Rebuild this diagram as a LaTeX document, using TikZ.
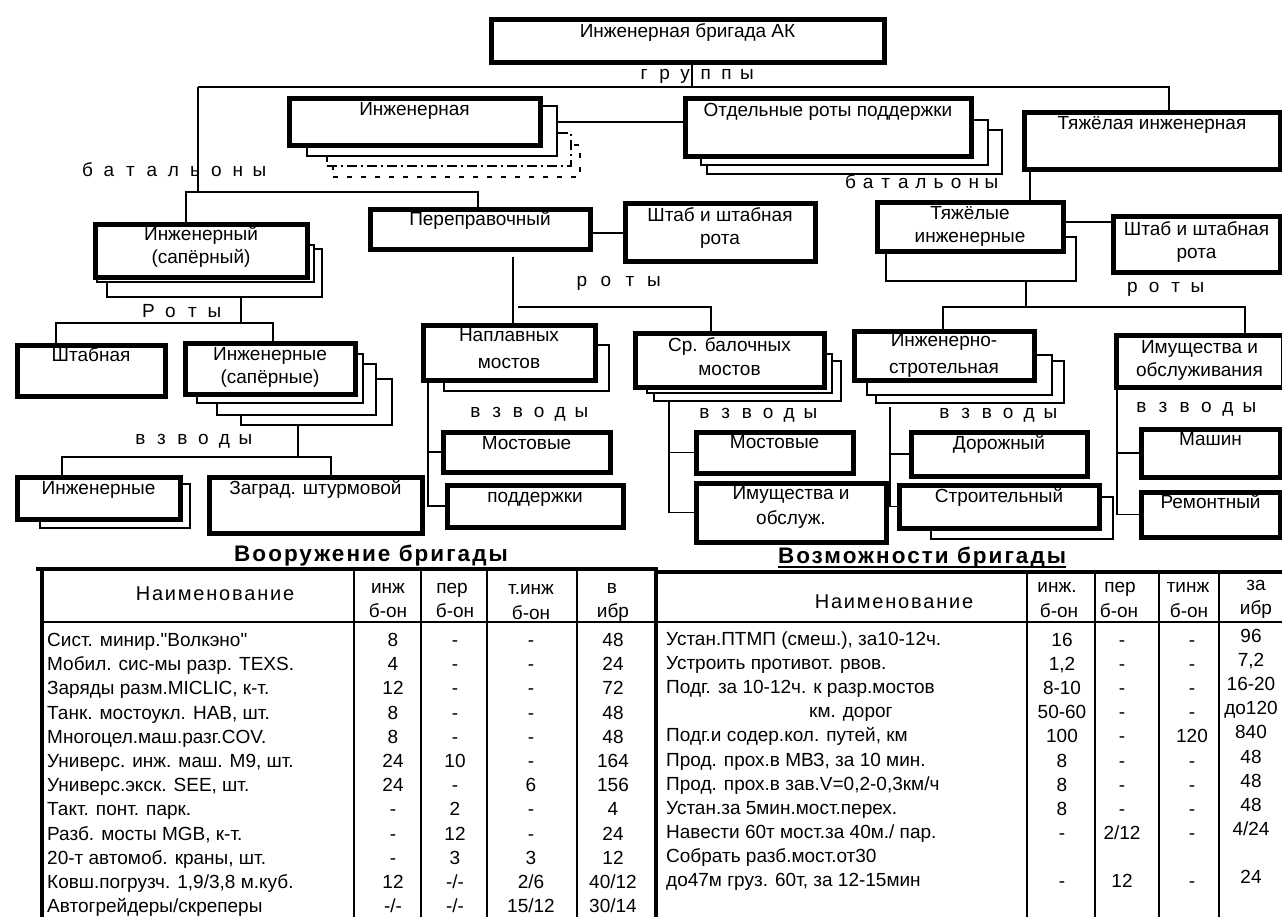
\documentclass[tikz,border=0pt]{standalone}
\usepackage{fontspec}
\setmainfont{Liberation Sans}
\newfontfamily\titlefont[LetterSpace=9]{Liberation Sans}
\newfontfamily\headfont[LetterSpace=9]{Liberation Sans}
\usetikzlibrary{calc}

% letter-spaced captions: every letter in a cell of fixed width
\makeatletter
\newlength\lstep
\newcommand\spreadtxt[2]{\setlength\lstep{#1}\@tfor\sp@c:=#2\do{\makebox[\lstep]{\sp@c}}}
\makeatother

\pgfdeclarelayer{bg}
\pgfsetlayers{bg,main}

\tikzset{
  mainb/.style={draw, line width=5pt, fill=white, inner sep=0pt},
  shadowb/.style={draw, line width=1.8pt, fill=white, inner sep=0pt},
  dashdotb/.style={draw, line width=1.8pt, fill=white, inner sep=0pt,
    dash pattern=on 10pt off 4pt on 2pt off 4pt},
  dotb/.style={draw, line width=2pt, fill=white, inner sep=0pt,
    dash pattern=on 5pt off 9pt},
  lbl/.style={anchor=base, inner sep=0pt, font=\fontsize{19}{23}\selectfont},
  sl/.style={anchor=base, inner sep=0pt, font=\fontsize{19}{23}\selectfont},
  conn/.style={line width=1.6pt},
  cellL/.style={anchor=base west, inner sep=0pt, font=\fontsize{19}{23}\selectfont},
  cell/.style={anchor=base, inner sep=0pt, font=\fontsize{19}{23}\selectfont},
  headcell/.style={anchor=base, inner sep=0pt, font=\headfont\fontsize{20}{24}\selectfont},
  titlecell/.style={anchor=base, inner sep=0pt, font=\titlefont\bfseries\fontsize{22.5}{26}\selectfont},
  tthick/.style={line width=4pt},
  tmid/.style={line width=2.5pt},
  tthin/.style={line width=1.6pt},
}

% unit box given by its outer edges x1,y1,x2,y2 (y grows downward)
\newcommand\mainbox[5]{\node[mainb, minimum width={#4-#2-5}, minimum height={#5-#3-5},
  anchor=north west] (#1) at ({#2+2.5},{#3+2.5}) {};}
% thin copy behind a unit box
\newcommand\shbox[6][shadowb]{\node[#1, minimum width={#5-#3-2}, minimum height={#6-#4-2},
  anchor=north west] (#2) at ({#3+1},{#4+1}) {};}
% caption line inside a box, centred on the box, given its baseline
\newcommand\btxt[4]{\node[lbl] (#1) at (#2.center |- 0,#3) {#4};}

% table rows
\newcommand\rowA[6]{%
  \node[cellL] (a#1n) at (47,#1) {#2};
  \node[cell] (a#1i) at (393,#1) {#3};
  \node[cell] (a#1p) at (455,#1) {#4};
  \node[cell] (a#1t) at (531,#1) {#5};
  \node[cell] (a#1b) at (613,#1) {#6};}
\newcommand\rowB[6]{%
  \node[cellL] (b#1n) at (666,#1) {#2};
  \node[cell] (b#1i) at (1062,{#1+1}) {#3};
  \node[cell] (b#1p) at (1122,{#1+1}) {#4};
  \node[cell] (b#1t) at (1192,{#1+1}) {#5};
  \node[cell] (b#1b) at (1251,{#1-3}) {#6};}

\begin{document}
\begin{tikzpicture}[x=1pt,y=-1pt]
\useasboundingbox (0,0) rectangle (1282,917);
\begin{pgfonlayer}{bg}
  \fill[white] (0,0) rectangle (1282,917);
\end{pgfonlayer}

% ---------- brigade and groups ----------
\mainbox{top}{486}{15}{884}{63}
\btxt{topT}{top}{38}{Инженерная бригада АК}

\shbox[dotb]{grpIngD2}{331}{143}{580}{177}
\shbox[dashdotb]{grpIngD1}{325}{131}{571}{166}
\shbox{grpIngS}{305}{104}{557}{156}
\mainbox{grpIng}{284}{94}{540}{146}
\btxt{grpIngT}{grpIng}{116}{Инженерная}

\shbox{grpSupS2}{705}{128}{1002}{174}
\shbox{grpSupS1}{699}{118}{988}{165}
\mainbox{grpSup}{680}{94}{971}{157}
\btxt{grpSupT}{grpSup}{117}{Отдельные роты поддержки}

\mainbox{grpHeavy}{1019}{108}{1280}{170}
\btxt{grpHeavyT}{grpHeavy}{130}{Тяжёлая инженерная}

% ---------- battalions ----------
\shbox{bnEngS2}{105}{247}{322}{297}
\shbox{bnEngS1}{95}{243}{314}{282}
\mainbox{bnEng}{90}{220}{307}{278}
\btxt{bnEngT1}{bnEng}{241}{Инженерный}
\btxt{bnEngT2}{bnEng}{264}{(сапёрный)}

\mainbox{bnCross}{365}{205}{590}{250}
\btxt{bnCrossT}{bnCross}{226}{Переправочный}

\mainbox{hqL}{620}{199}{815}{262}
\btxt{hqLT1}{hqL}{222}{Штаб и штабная}
\btxt{hqLT2}{hqL}{245}{рота}

\shbox{bnHeavyS}{884}{235}{1076}{281}
\mainbox{bnHeavy}{872}{198}{1063}{252}
\btxt{bnHeavyT1}{bnHeavy}{220}{Тяжёлые}
\btxt{bnHeavyT2}{bnHeavy}{243}{инженерные}

\mainbox{hqR}{1108}{212}{1280}{273}
\btxt{hqRT1}{hqR}{236}{Штаб и штабная}
\btxt{hqRT2}{hqR}{259}{рота}

% ---------- companies ----------
\mainbox{coStaff}{12}{340}{165}{396}
\btxt{coStaffT}{coStaff}{361}{Штабная}

\shbox{coSapS3}{239}{377}{392}{425}
\shbox{coSapS2}{215}{362}{376}{415}
\shbox{coSapS1}{195}{352}{363}{403}
\mainbox{coSap}{180}{338}{355}{394}
\btxt{coSapT1}{coSap}{360}{Инженерные}
\btxt{coSapT2}{coSap}{383}{(сапёрные)}

\shbox{coPontS}{442}{343}{609}{391}
\mainbox{coPont}{418}{320}{595}{380}
\btxt{coPontT1}{coPont}{341}{Наплавных}
\btxt{coPontT2}{coPont}{368}{мостов}

\shbox{coBeamS2}{652}{359}{841}{401}
\shbox{coBeamS1}{645}{352}{832}{393}
\mainbox{coBeam}{630}{328}{824}{387}
\btxt{coBeamT1}{coBeam}{351}{Ср. балочных}
\btxt{coBeamT2}{coBeam}{375}{мостов}

\shbox{coConS2}{874}{359}{1064}{403}
\shbox{coConS1}{865}{353}{1052}{395}
\mainbox{coCon}{849}{326}{1034}{380}
\btxt{coConT1}{coCon}{346}{Инженерно-}
\btxt{coConT2}{coCon}{373}{стротельная}

\mainbox{coProp}{1111}{330}{1283}{387}
\btxt{coPropT1}{coProp}{353}{Имущества и}
\btxt{coPropT2}{coProp}{376}{обслуживания}

% ---------- platoons ----------
\shbox{plEngS}{38}{482}{190}{528}
\mainbox{plEng}{12}{472}{180}{519}
\btxt{plEngT}{plEng}{494}{Инженерные}

\mainbox{plBar}{204}{472}{422}{533}
\btxt{plBarT}{plBar}{494}{Заград. штурмовой}

\mainbox{plBr1}{438}{427}{610}{472}
\btxt{plBr1T}{plBr1}{449}{Мостовые}
\mainbox{plSup}{442}{480}{623}{527}
\btxt{plSupT}{plSup}{502}{поддержки}

\mainbox{plBr2}{691}{427}{853}{473}
\btxt{plBr2T}{plBr2}{448}{Мостовые}
\mainbox{plProp}{691}{478}{886}{542}
\btxt{plPropT1}{plProp}{499}{Имущества и}
\btxt{plPropT2}{plProp}{524}{обслуж.}

\mainbox{plRoad}{906}{427}{1087}{476}
\btxt{plRoadT}{plRoad}{449}{Дорожный}
\shbox{plBuildS}{929}{495}{1113}{539}
\mainbox{plBuild}{894}{480}{1099}{528}
\btxt{plBuildT}{plBuild}{502}{Строительный}

\mainbox{plMach}{1136}{424}{1280}{477}
\btxt{plMachT}{plMach}{445}{Машин}
\mainbox{plRep}{1136}{487}{1280}{537}
\btxt{plRepT}{plRep}{508}{Ремонтный}

% ---------- level captions ----------
\node[sl] (lGroups) at (695.5,80) {\spreadtxt{20.6pt}{группы}};
\node[sl] (lBnL) at (173.5,177) {\spreadtxt{21.5pt}{батальоны}};
\node[sl] (lBnR) at (921,189) {\spreadtxt{17.6pt}{батальоны}};
\node[sl] (lCoM) at (618,287) {\spreadtxt{24pt}{роты}};
\node[sl] (lCoR) at (1165,293) {\spreadtxt{21.7pt}{роты}};
\node[sl] (lCoL) at (181.5,317) {\spreadtxt{22pt}{Роты}};
\node[sl] (lPl1) at (193,444) {\spreadtxt{21pt}{взводы}};
\node[sl] (lPl2) at (528.5,417) {\spreadtxt{21.2pt}{взводы}};
\node[sl] (lPl3) at (757.5,418) {\spreadtxt{21.2pt}{взводы}};
\node[sl] (lPl4) at (997.5,418) {\spreadtxt{21.2pt}{взводы}};
\node[sl] (lPl5) at (1195.5,412) {\spreadtxt{21.6pt}{взводы}};

% ---------- junction points of the connectors ----------
\coordinate (gM) at (692,87);
\coordinate (gL) at (198,87);
\coordinate (gR) at (1169,87);
\coordinate (bL) at (198,192);
\coordinate (bA) at (186,192);
\coordinate (bB) at (478,192);
\coordinate (iY) at (0,122);
\coordinate (pV) at (513,257);
\coordinate (pH) at (518,307);
\coordinate (pB) at (711,307);
\coordinate (hV) at (1030,0);
\coordinate (hY) at (0,222);
\coordinate (rA) at (943,307);
\coordinate (rB) at (1245,307);
\coordinate (rC) at (1026,307);
\coordinate (lA) at (56,323);
\coordinate (lB) at (273,323);
\coordinate (lC) at (241,323);
\coordinate (vA) at (62,457);
\coordinate (vB) at (331,457);
\coordinate (vC) at (298,457);
\coordinate (nX) at (428,0);
\coordinate (bX) at (669,0);
\coordinate (cX) at (890,407);
\coordinate (mX) at (1117,0);

\begin{pgfonlayer}{bg}
  \draw[conn] (top.south -| gM) -- (gM);
  \draw[conn] (gL) -- (gR) -- (grpHeavy.north -| gR);
  \draw[conn] (gL) -- (bL);
  \draw[conn] (bnEng.north -| bA) -- (bA) -- (bB) -- (bnCross.north -| bB);
  \draw[conn] (grpIngS.east |- iY) -- (grpSup.west |- iY);
  \draw[conn] (bnCross.east |- hqL.west) -- (hqL.west);
  \draw[conn] (pV) -- (coPont.north -| pV);
  \draw[conn] (pH) -- (pB) -- (coBeam.north -| pB);
  \draw[conn] (grpHeavy.south -| hV) -- (bnHeavy.north -| hV);
  \draw[conn] (bnHeavy.east |- hY) -- (hqR.west |- hY);
  \draw[conn] (bnHeavyS.south -| rC) -- (rC);
  \draw[conn] (coCon.north -| rA) -- (rA) -- (rB) -- (coProp.north -| rB);
  \draw[conn] (bnEngS2.south -| lC) -- (lC);
  \draw[conn] (coStaff.north -| lA) -- (lA) -- (lB) -- (coSap.north -| lB);
  \draw[conn] (coSapS3.south -| vC) -- (vC);
  \draw[conn] (plEng.north -| vA) -- (vA) -- (vB) -- (plBar.north -| vB);
  \draw[conn] (coPont.south -| nX) |- (plSup.west);
  \draw[conn] (nX |- plBr1.west) -- (plBr1.west);
  \draw[conn] (coBeamS2.south -| bX) |- (plProp.west);
  \draw[conn] (bX |- plBr2.west) -- (plBr2.west);
  \draw[conn] (cX) |- (plBuild.west);
  \draw[conn] (cX |- plRoad.west) -- (plRoad.west);
  \draw[conn] (coProp.south -| mX) |- (plRep.west);
  \draw[conn] (mX |- plMach.west) -- (plMach.west);
\end{pgfonlayer}

% ---------- tables ----------
\node[titlecell] (ttlA) at (371,561) {Вооружение бригады};
\node[titlecell] (ttlB) at (922,563) {Возможности бригады};
\draw[line width=2pt] ([yshift=-3.5pt]ttlB.base west) -- ([yshift=-3.5pt]ttlB.base east);

% grid
\draw[tthick] (36,569) -- (658,569);
\draw[tthick] (654,572) -- (1282,572);
\draw[tthick] (42,567) -- (42,917);
\draw[tthick] (656,567) -- (656,917);
\draw[tmid] (42,622) -- (1282,622);
\foreach \cx in {354,421,487,577}{\draw[tthin] (\cx,569) -- (\cx,917);}
\foreach \cx in {1027,1095,1159,1219}{\draw[tthin] (\cx,572) -- (\cx,917);}

% armament table
\node[headcell] (aH) at (215,600) {Наименование};
\node[cell] (aH1a) at (388,593) {инж};
\node[cell] (aH1b) at (388,617) {б-он};
\node[cell] (aH2a) at (452,593) {пер};
\node[cell] (aH2b) at (455,617) {б-он};
\node[cell] (aH3a) at (531,594) {т.инж};
\node[cell] (aH3b) at (531,619) {б-он};
\node[cell] (aH4a) at (612,593) {в};
\node[cell] (aH4b) at (613,617) {ибр};

\rowA{646}{Сист. минир.\textquotedbl Волкэно\textquotedbl}{8}{-}{-}{48}
\rowA{670}{Мобил. сис-мы разр. TEXS.}{4}{-}{-}{24}
\rowA{694}{Заряды разм.MICLIC, к-т.}{12}{-}{-}{72}
\rowA{719}{Танк. мостоукл. HAB, шт.}{8}{-}{-}{48}
\rowA{743}{Многоцел.маш.разг.COV.}{8}{-}{-}{48}
\rowA{767}{Универс. инж. маш. M9, шт.}{24}{10}{-}{164}
\rowA{791}{Универс.экск. SEE, шт.}{24}{-}{6}{156}
\rowA{815}{Такт. понт. парк.}{-}{2}{-}{4}
\rowA{840}{Разб. мосты MGB, к-т.}{-}{12}{-}{24}
\rowA{864}{20-т автомоб. краны, шт.}{-}{3}{3}{12}
\rowA{888}{Ковш.погрузч. 1,9/3,8 м.куб.}{12}{-/-}{2/6}{40/12}
\rowA{912}{Автогрейдеры/скреперы}{-/-}{-/-}{15/12}{30/14}

% capability table
\node[headcell] (bH) at (894,608) {Наименование};
\node[cell] (bH1a) at (1057,592) {инж.};
\node[cell] (bH1b) at (1059,617) {б-он};
\node[cell] (bH2a) at (1120,592) {пер};
\node[cell] (bH2b) at (1119,617) {б-он};
\node[cell] (bH3a) at (1188,592) {тинж};
\node[cell] (bH3b) at (1189,617) {б-он};
\node[cell] (bH4a) at (1256,590) {за};
\node[cell] (bH4b) at (1256,614) {ибр};

\rowB{645}{Устан.ПТМП (смеш.), за10-12ч.}{16}{-}{-}{96}
\rowB{669}{Устроить противот. рвов.}{1,2}{-}{-}{7,2}
\rowB{693}{Подг. за 10-12ч. к разр.мостов}{8-10}{-}{-}{16-20}
\rowB{717}{\hspace*{143pt}км. дорог}{50-60}{-}{-}{до120}
\rowB{741}{Подг.и содер.кол. путей, км}{100}{-}{120}{840}
\rowB{766}{Прод. прох.в МВЗ, за 10 мин.}{8}{-}{-}{48}
\rowB{790}{Прод. прох.в зав.V=0,2-0,3км/ч}{8}{-}{-}{48}
\rowB{814}{Устан.за 5мин.мост.перех.}{8}{-}{-}{48}
\rowB{838}{Навести 60т мост.за 40м./ пар.}{-}{2/12}{-}{4/24}
\node[cellL] (b862n) at (666,862) {Собрать разб.мост.от30};
\rowB{886}{до47м груз. 60т, за 12-15мин}{-}{12}{-}{24}
\end{tikzpicture}
\end{document}
